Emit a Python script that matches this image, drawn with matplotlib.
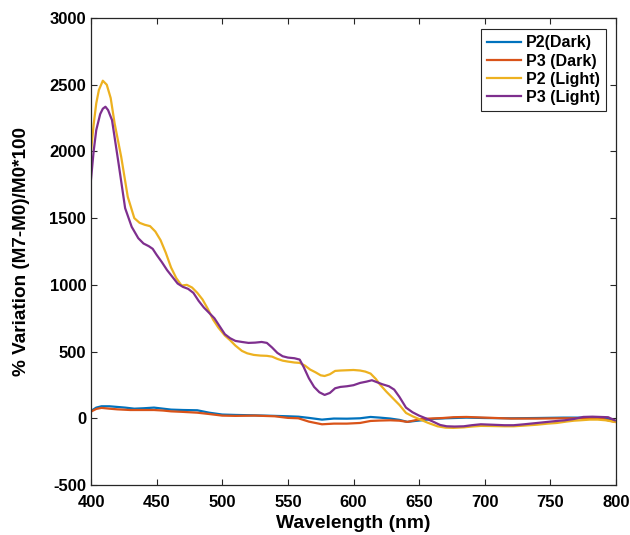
import matplotlib
matplotlib.use("Agg")
import matplotlib.pyplot as plt

plt.rcParams['font.family'] = ['Liberation Sans', 'DejaVu Sans']
plt.rcParams['font.weight'] = 'bold'
plt.rcParams['axes.unicode_minus'] = False

# P2 (Dark)
p2d_x = [400, 404, 408, 414, 420, 426, 433, 440, 448, 455, 461, 470, 481, 490, 500, 510, 525, 540, 550, 558,
         566, 576, 585, 595, 605, 613, 620, 628, 635, 641, 647, 652, 660, 670, 686, 700, 720, 740, 760, 780, 790, 799]
p2d_y = [55, 80, 90, 90, 85, 80, 72, 75, 80, 72, 65, 62, 60, 42, 28, 25, 22, 18, 15, 12,
         3, -10, -2, -3, 0, 10, 5, -2, -12, -27, -20, -15, -5, 0, 5, 2, 0, 2, 5, 5, 5, -20]

# P3 (Dark)
p3d_x = [400, 404, 408, 414, 420, 430, 440, 448, 455, 461, 470, 481, 490, 500, 510, 525, 540, 550, 558,
         566, 576, 585, 595, 605, 613, 620, 628, 635, 641, 647, 652, 658, 668, 676, 686, 700, 720, 740, 760, 780, 790, 799]
p3d_y = [50, 70, 78, 72, 67, 62, 62, 62, 58, 52, 48, 42, 32, 20, 18, 20, 15, 3, 0,
         -25, -45, -40, -40, -35, -20, -17, -15, -18, -27, -15, -5, -2, 2, 8, 10, 5, -2, -2, 0, 0, -5, -27]

# P2 (Light)
p2l_x = [400, 402, 404, 406, 409, 412, 415, 418, 423, 428, 433, 437, 441, 445, 449, 453, 457, 461, 465, 469,
         473, 477, 481, 485, 489, 493, 497, 502, 506, 510, 515, 519, 524, 529, 534, 538, 542, 546, 550, 555,
         559, 563, 567, 571, 575, 578, 582, 586, 590, 595, 600, 605, 609, 613, 617, 620, 625, 630, 635, 640,
         645, 651, 657, 664, 670, 676, 684, 690, 697, 705, 715, 722, 730, 740, 748, 755, 762, 768, 773, 780,
         786, 792, 799]
p2l_y = [2000, 2200, 2360, 2460, 2530, 2500, 2400, 2210, 1960, 1660, 1500, 1465, 1450, 1440, 1400, 1335, 1240, 1130, 1050, 995,
         1000, 980, 940, 890, 820, 740, 680, 620, 585, 545, 505, 487, 475, 470, 468, 462, 445, 432, 425, 418,
         415, 395, 365, 345, 322, 317, 330, 355, 358, 360, 362, 358, 350, 335, 295, 255, 200, 150, 100, 40,
         15, -10, -35, -60, -70, -72, -68, -62, -57, -58, -60, -60, -55, -48, -40, -35, -25, -18, -15, -10,
         -10, -15, -27]

# P3 (Light)
p3l_x = [400, 402, 404, 407, 409, 411, 413, 416, 421, 426, 431, 436, 440, 444, 447, 450, 454, 458, 462, 466,
         470, 474, 478, 482, 486, 490, 494, 498, 502, 506, 510, 515, 520, 525, 530, 534, 538, 542, 546, 550,
         555, 559, 562, 566, 570, 574, 578, 582, 586, 590, 595, 600, 605, 610, 614, 618, 622, 627, 631, 635,
         640, 645, 650, 655, 661, 666, 671, 677, 684, 690, 697, 705, 715, 722, 730, 740, 748, 755, 761, 768,
         775, 782, 788, 794, 799]
p3l_y = [1790, 2000, 2160, 2280, 2320, 2335, 2310, 2235, 1910, 1575, 1435, 1350, 1310, 1290, 1270, 1225, 1170, 1110, 1060, 1010,
         985, 970, 940, 880, 830, 790, 750, 690, 630, 600, 580, 572, 565, 567, 572, 565, 530, 490, 465, 455,
         450, 440, 385, 300, 235, 195, 175, 190, 225, 235, 240, 248, 265, 275, 285, 270, 255, 240, 215, 160,
         80, 45, 20, 0, -27, -50, -60, -62, -60, -52, -45, -48, -52, -52, -45, -35, -27, -20, -15, -5,
         10, 12, 10, 8, -15]

labels = ['P2(Dark)', 'P3 (Dark)', 'P2 (Light)', 'P3 (Light)']
colors = ['#0072BD', '#D95319', '#EDB120', '#7E2F8E']
x_ticks = [400, 450, 500, 550, 600, 650, 700, 750, 800]
y_ticks = [-500, 0, 500, 1000, 1500, 2000, 2500, 3000]

fig = plt.figure(figsize=(6.3, 5.35), dpi=100)
ax = fig.add_axes([91/630, 50/535, (616-91)/630, (485-18)/535])

series = [(p2d_x, p2d_y), (p3d_x, p3d_y), (p2l_x, p2l_y), (p3l_x, p3l_y)]
for (xs, ys), lab, c in zip(series, labels, colors):
    ax.plot(xs, ys, color=c, lw=1.6, label=lab)

ax.set_xlim(400, 800)
ax.set_ylim(-500, 3000)
ax.set_xticks(x_ticks)
ax.set_yticks(y_ticks)
ax.tick_params(direction='in', top=True, right=True, length=4, width=0.8,
               labelsize=12, colors='#262626', labelcolor='black')
ax.tick_params(axis='x', pad=7.5)
ax.tick_params(axis='y', pad=3.5)
for lab in ax.get_xticklabels() + ax.get_yticklabels():
    lab.set_fontweight('bold')
for s in ax.spines.values():
    s.set_color('#262626')
    s.set_linewidth(0.9)

ax.set_xlabel('Wavelength (nm)', fontsize=13.9, fontweight='bold', labelpad=3)
ax.set_ylabel('% Variation (M7-M0)/M0*100', fontsize=13.6, fontweight='bold', labelpad=14)

leg = ax.legend(loc='upper right', bbox_to_anchor=(1 - 10/525, 1 - 11/467),
                prop={'size': 11.5, 'weight': 'bold'}, fancybox=False, framealpha=1,
                edgecolor='#262626', handlelength=2.1, handletextpad=0.3,
                labelspacing=0.2, borderpad=0.4, borderaxespad=0)
leg.get_frame().set_linewidth(0.8)

fig.savefig('out.png', dpi=100)
